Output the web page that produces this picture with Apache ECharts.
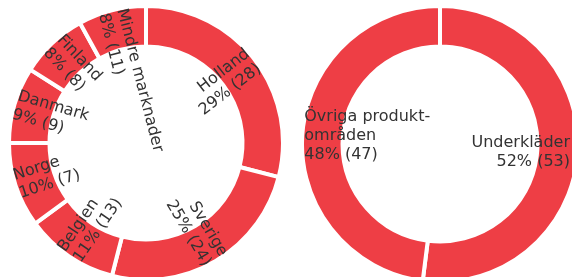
<!DOCTYPE html>
<html>
<head>
    <meta charset="utf-8">
    <title>Försäljning per marknad och produktområde</title>
    <script src="https://cdn.jsdelivr.net/npm/echarts@6/dist/echarts.min.js"></script>
    <style>
        html, body { margin: 0; padding: 0; background: #fff; }
        #chart1 { width: 572px; height: 277px; }
    </style>
</head>
<body>
<div id="chart1"></div>
<script type="text/javascript">
    // marknader (vänster ring)
    var marketNames = ['Holland', 'Sverige', 'Belgien', 'Norge', 'Danmark', 'Finland', 'Mindre marknader'];
    var marketShares = [29, 25, 11, 10, 9, 8, 8];
    var marketCounts = [28, 24, 13, 7, 9, 8, 11];

    // produktområden (höger ring)
    var productNames = ['Underkläder', 'Övriga produkt-\nområden'];
    var productShares = [52, 48];
    var productCounts = [53, 47];

    var red = '#ee3e45';
    var textStyle = {
        color: '#333',
        fontFamily: 'DejaVu Sans',
        fontSize: 16,
        lineHeight: 19
    };

    // höger halva -> texten slutar vid ytterkanten, vänster halva -> börjar där
    function sideAlign(shares) {
        var total = shares.reduce(function (a, b) { return a + b; }, 0);
        var acc = 0;
        return shares.map(function (v) {
            var mid = acc + v / 2;
            acc += v;
            return mid / total < 0.5 ? 'right' : 'left';
        });
    }
    var marketAlign = sideAlign(marketShares);
    var productAlign = sideAlign(productShares);

    function buildData(names, shares, counts) {
        return names.map(function (n, i) {
            return { name: n, value: shares[i], count: counts[i] };
        });
    }

    function labelText(p) {
        return p.name + '\n' + p.value + '% (' + p.data.count + ')';
    }

    var marketData = buildData(marketNames, marketShares, marketCounts);
    var productData = buildData(productNames, productShares, productCounts);

    var myChart1 = echarts.init(document.getElementById('chart1'));
    var chartWidth = myChart1.getWidth();

    myChart1.setOption({
        animation: false,
        series: [
            {
                type: 'pie',
                center: [146, 143],
                radius: [96.5, 137],
                startAngle: 90,
                silent: true,
                label: { show: false },
                itemStyle: { color: red, borderColor: '#fff', borderWidth: 4 },
                data: marketData
            },
            {
                // bara etiketter
                type: 'pie',
                center: [146, 143],
                radius: [128, 138],
                startAngle: 90,
                silent: true,
                itemStyle: { color: 'rgba(0,0,0,0)' },
                label: Object.assign({
                    show: true,
                    position: 'inside',
                    rotate: 'radial',
                    formatter: labelText
                }, textStyle),
                labelLine: { show: false },
                labelLayout: function (params) {
                    return { align: marketAlign[params.dataIndex] };
                },
                data: marketData
            },
            {
                type: 'pie',
                center: [440, 144],
                radius: [97.5, 138],
                startAngle: 90,
                silent: true,
                label: { show: false },
                itemStyle: { color: red, borderColor: '#fff', borderWidth: 4 },
                data: productData
            },
            {
                type: 'pie',
                center: [440, 144],
                radius: [128, 138],
                startAngle: 90,
                silent: true,
                itemStyle: { color: 'rgba(0,0,0,0)' },
                label: Object.assign({
                    show: true,
                    position: 'inside',
                    rotate: 0,
                    formatter: labelText
                }, textStyle),
                labelLine: { show: false },
                labelLayout: function (params) {
                    // håll texten innanför kanten
                    var r = params.labelRect;
                    var end = r.x + r.width / 2;
                    var dx = productAlign[params.dataIndex] === 'right' ? Math.min(0, chartWidth - 2 - end) : 0;
                    return { align: productAlign[params.dataIndex], dx: dx };
                },
                data: productData
            }
        ]
    });
</script>
</body>
</html>
